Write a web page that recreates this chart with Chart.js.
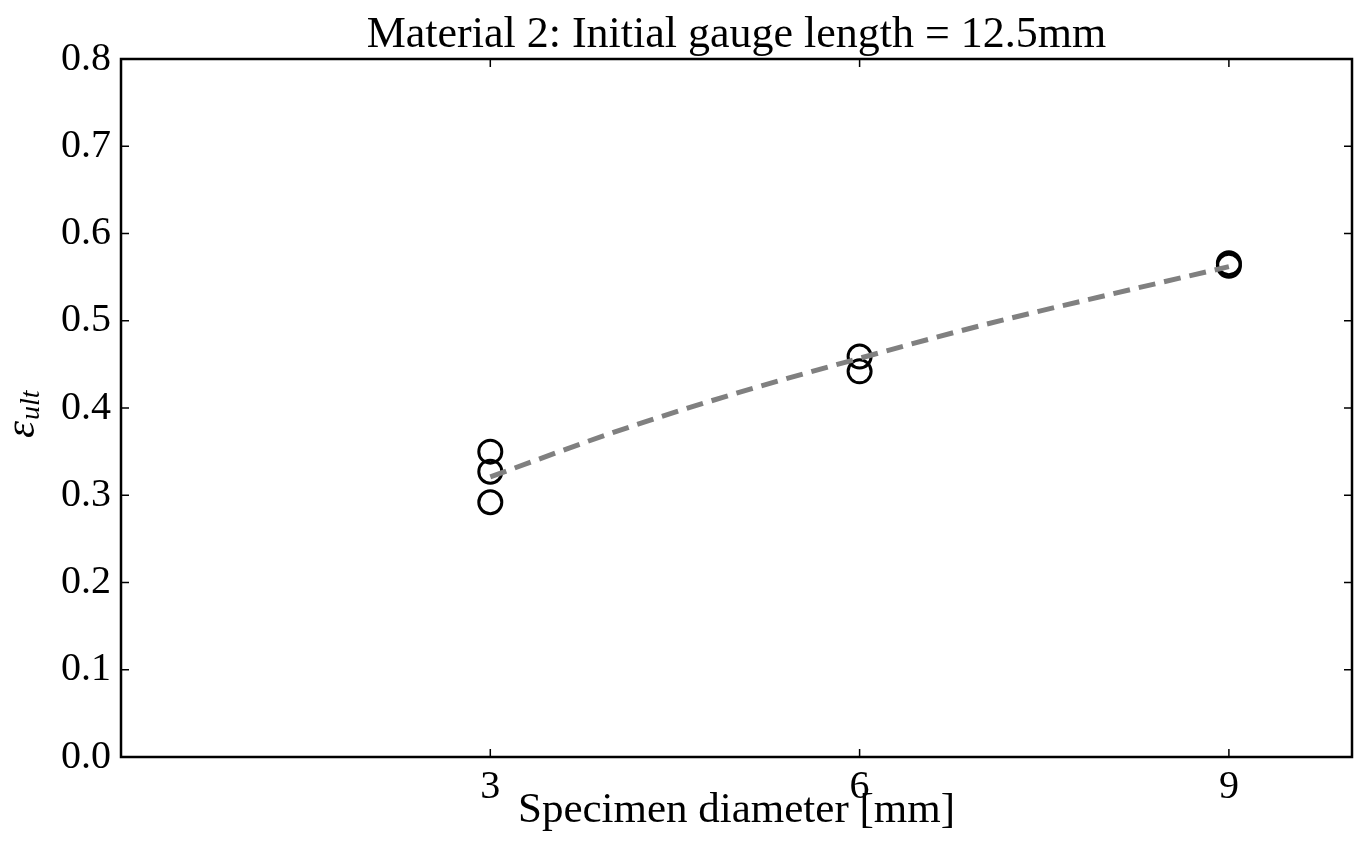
<!DOCTYPE html>
<html>
<head>
<meta charset="utf-8">
<script src="https://cdn.jsdelivr.net/npm/chart.js@4/dist/chart.umd.min.js"></script>
<style>
  body { margin: 0; background: #fff; }
  #chart { display: block; }
</style>
</head>
<body>
<canvas id="chart" width="1357" height="850"></canvas>
<script>
// measured specimens
var specimenDiameter = [3, 3, 3, 6, 6, 9, 9];
var strainUlt = [0.350, 0.327, 0.292, 0.459, 0.442, 0.566, 0.563];

// fitted trend (dashed grey)
var fitDiameter = [3, 4, 5, 6, 7, 8, 9];
var fitStrain = [0.321, 0.372, 0.417, 0.457, 0.495, 0.529, 0.562];

var xTicks = [3, 6, 9];
var yTicks = [0.0, 0.1, 0.2, 0.3, 0.4, 0.5, 0.6, 0.7, 0.8];

var titleText = 'Material 2: Initial gauge length = 12.5mm';
var serif = "'Liberation Serif', 'DejaVu Serif', serif";

function toPoints(xs, ys) {
    var pts = [];
    for (var i = 0; i < xs.length; i++) {
        pts.push({x: xs[i], y: ys[i]});
    }
    return pts;
}

// box + inward tick marks on all four sides, like the old matplotlib style
var frame = {
    id: 'frame',
    afterDatasetsDraw: function (chart) {
        var ctx = chart.ctx;
        var a = chart.chartArea;
        var xs = chart.scales.x, ys = chart.scales.y;
        var len = 8;
        ctx.save();
        ctx.strokeStyle = '#000';
        ctx.lineWidth = 1.5;
        ctx.beginPath();
        xs.ticks.forEach(function (t) {
            var px = xs.getPixelForValue(t.value);
            ctx.moveTo(px, a.bottom); ctx.lineTo(px, a.bottom - len);
            ctx.moveTo(px, a.top); ctx.lineTo(px, a.top + len);
        });
        ys.ticks.forEach(function (t) {
            var py = ys.getPixelForValue(t.value);
            ctx.moveTo(a.left, py); ctx.lineTo(a.left + len, py);
            ctx.moveTo(a.right, py); ctx.lineTo(a.right - len, py);
        });
        ctx.stroke();
        ctx.lineWidth = 2.5;
        ctx.strokeRect(a.left, a.top, a.right - a.left, a.bottom - a.top);
        ctx.restore();
    }
};

// title centred over the plot box, and the y title (epsilon_ult)
var labels = {
    id: 'labels',
    afterDraw: function (chart) {
        var ctx = chart.ctx;
        var a = chart.chartArea;
        ctx.save();
        ctx.fillStyle = '#000';
        ctx.font = '44px ' + serif;
        ctx.textAlign = 'center';
        ctx.textBaseline = 'alphabetic';
        ctx.fillText(titleText, (a.left + a.right) / 2, 47);

        ctx.translate(34, 438);
        ctx.rotate(-Math.PI / 2);
        ctx.textAlign = 'left';
        ctx.font = 'italic 43px ' + serif;
        ctx.fillText('\u03b5', 0, 0);
        var w = ctx.measureText('\u03b5').width;
        ctx.font = 'italic 28px ' + serif;
        ctx.fillText('ult', w + 1, 5);
        ctx.restore();
    }
};

var ctx = document.getElementById('chart');
var myChart = new Chart(ctx, {
    type: 'scatter',
    data: {
        datasets: [
            {
                label: 'fit',
                type: 'line',
                data: toPoints(fitDiameter, fitStrain),
                borderColor: '#808080',
                borderWidth: 5,
                borderDash: [17, 9],
                pointRadius: 0,
                fill: false,
                cubicInterpolationMode: 'monotone',
                showLine: true
            },
            {
                label: 'specimens',
                data: toPoints(specimenDiameter, strainUlt),
                pointStyle: 'circle',
                pointRadius: 11.5,
                pointBorderWidth: 3,
                borderColor: '#000',
                backgroundColor: 'rgba(0,0,0,0)',
                showLine: false
            }
        ]
    },
    options: {
        responsive: false,
        devicePixelRatio: 1,
        animation: false,
        layout: {autoPadding: false, padding: {left: 0, right: 5, top: 59, bottom: 0}},
        plugins: {
            legend: {display: false},
            tooltip: {enabled: false},
            title: {display: false}
        },
        scales: {
            x: {
                type: 'linear',
                min: 0,
                max: 10,
                afterBuildTicks: function (scale) {
                    scale.ticks = xTicks.map(function (v) { return {value: v}; });
                },
                afterFit: function (scale) {
                    scale.height = 93;
                    scale.paddingLeft = 0;
                    scale.paddingRight = 0;
                },
                grid: {display: false, drawTicks: false},
                border: {display: false},
                ticks: {
                    color: '#000',
                    font: {family: serif, size: 40},
                    padding: 6,
                    maxRotation: 0,
                    callback: function (v) { return String(v); }
                },
                title: {
                    display: true,
                    text: 'Specimen diameter [mm]',
                    color: '#000',
                    font: {family: serif, size: 43, lineHeight: 1.2},
                    padding: {top: 0, bottom: 13}
                }
            },
            y: {
                type: 'linear',
                min: 0,
                max: 0.8,
                afterBuildTicks: function (scale) {
                    scale.ticks = yTicks.map(function (v) { return {value: v}; });
                },
                afterFit: function (scale) {
                    scale.width = 121;
                    scale.paddingTop = 0;
                    scale.paddingBottom = 0;
                },
                grid: {display: false, drawTicks: false},
                border: {display: false},
                ticks: {
                    color: '#000',
                    font: {family: serif, size: 40},
                    padding: 10,
                    callback: function (v) { return Number(v).toFixed(1); }
                }
            }
        }
    },
    plugins: [frame, labels]
});
</script>
</body>
</html>
